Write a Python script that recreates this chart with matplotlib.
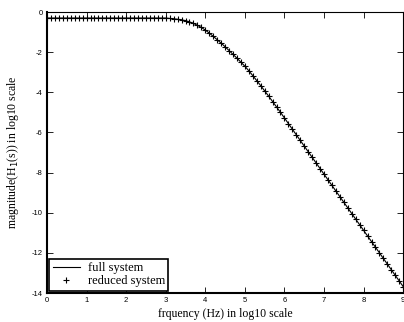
# Frequency response magnitude: full vs reduced system (log10 scales).
import matplotlib; matplotlib.use("Agg")
import matplotlib.pyplot as plt
import numpy as np

# log10 frequency, step 0.1 from 0 to 9
freq = np.round(np.arange(0, 91) * 0.1, 1)
# magnitude (log10)
mag = [-0.30] * 30 + [
    -0.30, -0.32, -0.34, -0.36, -0.39, -0.43, -0.49, -0.57, -0.66, -0.77,
    -0.90, -1.05, -1.21, -1.38, -1.55, -1.73, -1.92, -2.11, -2.30, -2.50,
    -2.70, -2.93, -3.17, -3.42, -3.67, -3.93, -4.19, -4.46, -4.73, -5.00,
    -5.28, -5.56, -5.84, -6.12, -6.40, -6.68, -6.96, -7.24, -7.52, -7.80,
    -8.08, -8.36, -8.64, -8.92, -9.20, -9.48, -9.76, -10.04, -10.32, -10.60,
    -10.88, -11.16, -11.44, -11.72, -12.00, -12.28, -12.56, -12.84, -13.12, -13.40,
    -13.68]
mag_red = mag
xticks = list(range(0, 10))
yticks = list(range(-14, 1, 2))

plt.rcParams["axes.unicode_minus"] = False
serif = ["Liberation Serif", "DejaVu Serif"]
fig = plt.figure(figsize=(4.04, 3.22), dpi=100)
ax = fig.add_axes([0.1163, 0.090, 0.8817, 0.8727])

ax.plot(freq, mag, "-", color="black", lw=0.8, label="full system")
ax.plot(freq, mag_red, "+", color="black", ms=4, mew=0.8, label="reduced system")

ax.set_xlim(0, 9)
ax.set_ylim(-14, 0)
ax.set_xticks(xticks)
ax.set_yticks(yticks)
ax.tick_params(direction="in", length=4, width=0.6, top=True, right=True,
               labelsize=5.5, pad=3)
for lab in ax.get_xticklabels() + ax.get_yticklabels():
    lab.set_family("Liberation Sans")
for s in ["bottom", "left"]:
    ax.spines[s].set_linewidth(1.5)
for s in ["top", "right"]:
    ax.spines[s].set_linewidth(0.8)

ax.set_xlabel("frquency (Hz) in log10 scale", family=serif, fontsize=8.5, labelpad=3)
ax.set_ylabel("magnitude(H$_1$(s)) in log10 scale", family=serif, fontsize=8.5,
              labelpad=8)

leg = ax.legend(loc="lower left", prop={"family": serif, "size": 9},
                fancybox=False, framealpha=1, edgecolor="black",
                handlelength=2.2, handletextpad=0.6, borderpad=0.25,
                labelspacing=0.1, borderaxespad=0.2)
leg.get_frame().set_linewidth(1.2)

fig.savefig("out.png", dpi=100)
